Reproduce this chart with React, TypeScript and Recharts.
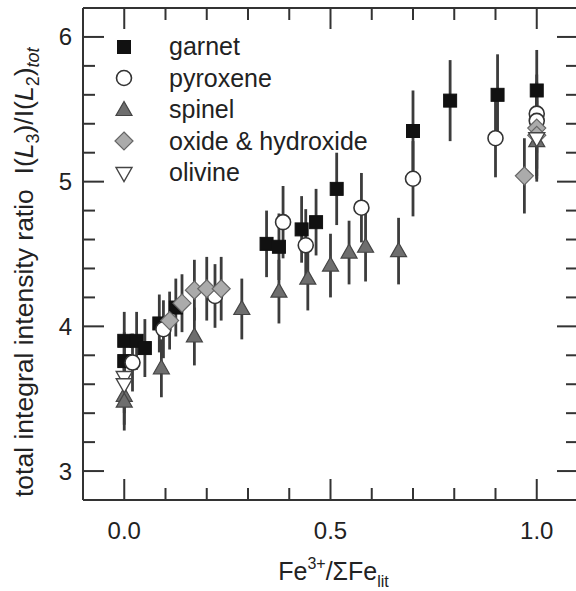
import React from 'react';
import { ErrorBar, Scatter, ScatterChart, XAxis, YAxis } from 'recharts';

// values (Fe3+/ΣFe vs L3/L2 intensity ratio)
const GARNET_X = [0.0, 0.03, 0.05, 0.0, 0.085, 0.125, 0.345, 0.375, 0.43, 0.465, 0.515, 0.7, 0.79, 0.905, 1.0];
const GARNET_Y = [3.9, 3.9, 3.85, 3.76, 4.02, 4.13, 4.57, 4.55, 4.67, 4.72, 4.95, 5.35, 5.56, 5.6, 5.63];
const GARNET_ERR = [0.2, 0.2, 0.2, 0.2, 0.2, 0.2, 0.23, 0.23, 0.23, 0.23, 0.25, 0.28, 0.28, 0.28, 0.28];

const PYROXENE_X = [0.02, 0.095, 0.22, 0.385, 0.44, 0.575, 0.7, 0.9, 1.0, 1.0];
const PYROXENE_Y = [3.75, 3.98, 4.21, 4.72, 4.56, 4.82, 5.02, 5.3, 5.47, 5.42];
const PYROXENE_ERR = [0.2, 0.2, 0.22, 0.25, 0.25, 0.24, 0.26, 0.27, 0.27, 0.27];

const SPINEL_X = [0.0, 0.0, 0.09, 0.17, 0.285, 0.375, 0.445, 0.5, 0.545, 0.585, 0.665, 1.0];
const SPINEL_Y = [3.52, 3.48, 3.71, 3.93, 4.12, 4.24, 4.33, 4.42, 4.51, 4.55, 4.52, 5.28];
const SPINEL_ERR = [0.2, 0.2, 0.2, 0.2, 0.21, 0.22, 0.22, 0.22, 0.22, 0.24, 0.23, 0.28];

const OXIDE_X = [0.11, 0.14, 0.17, 0.2, 0.235, 0.97, 1.0, 1.0];
const OXIDE_Y = [4.04, 4.16, 4.25, 4.26, 4.26, 5.04, 5.37, 5.32];
const OXIDE_ERR = [0.2, 0.2, 0.21, 0.22, 0.22, 0.26, 0.28, 0.28];

const OLIVINE_X = [0.0, 0.0, 1.0];
const OLIVINE_Y = [3.65, 3.6, 5.3];
const OLIVINE_ERR = [0.2, 0.2, 0.28];

const X_DOMAIN = [-0.1, 1.1];
const Y_DOMAIN = [2.8, 6.2];
const X_TICKS = [0, 0.1, 0.2, 0.3, 0.4, 0.5, 0.6, 0.7, 0.8, 0.9, 1.0];
const X_MAJOR = [0, 0.5, 1.0];
const X_LABELS = ['0.0', '0.5', '1.0'];
const Y_TICKS = [3, 3.2, 3.4, 3.6, 3.8, 4, 4.2, 4.4, 4.6, 4.8, 5, 5.2, 5.4, 5.6, 5.8, 6];
const Y_MAJOR = [3, 4, 5, 6];
const Y_LABELS = ['3', '4', '5', '6'];

const FONT = '"Liberation Sans", Arial, Helvetica, sans-serif';
const TEXT = '#222';
const BAR = '#3c3c3c';

type Kind = 'square' | 'circle' | 'up' | 'diamond' | 'down';

const zip = (xs: number[], ys: number[], es: number[]) =>
  xs.map((x, i) => ({ x, y: ys[i], err: es[i] }));

const SERIES: { name: string; kind: Kind; data: { x: number; y: number; err: number }[] }[] = [
  { name: 'garnet', kind: 'square', data: zip(GARNET_X, GARNET_Y, GARNET_ERR) },
  { name: 'pyroxene', kind: 'circle', data: zip(PYROXENE_X, PYROXENE_Y, PYROXENE_ERR) },
  { name: 'spinel', kind: 'up', data: zip(SPINEL_X, SPINEL_Y, SPINEL_ERR) },
  { name: 'oxide & hydroxide', kind: 'diamond', data: zip(OXIDE_X, OXIDE_Y, OXIDE_ERR) },
  { name: 'olivine', kind: 'down', data: zip(OLIVINE_X, OLIVINE_Y, OLIVINE_ERR) },
];

function Marker({ kind, cx, cy }: { kind: Kind; cx: number; cy: number }) {
  if (cx == null || cy == null) return <g />;
  switch (kind) {
    case 'square':
      return <rect x={cx - 6.5} y={cy - 6.5} width={13} height={13} fill="#111" stroke="#111" />;
    case 'circle':
      return <circle cx={cx} cy={cy} r={7.5} fill="#fff" stroke="#333" strokeWidth={1.6} />;
    case 'up':
      return (
        <polygon
          points={`${cx},${cy - 8.5} ${cx - 8},${cy + 5.5} ${cx + 8},${cy + 5.5}`}
          fill="#6e6e6e"
          stroke="#444"
          strokeWidth={1.2}
        />
      );
    case 'diamond':
      return (
        <polygon
          points={`${cx},${cy - 9} ${cx + 9},${cy} ${cx},${cy + 9} ${cx - 9},${cy}`}
          fill="#ababab"
          stroke="#666"
          strokeWidth={1.2}
        />
      );
    default:
      return (
        <polygon
          points={`${cx - 8},${cy - 5.5} ${cx + 8},${cy - 5.5} ${cx},${cy + 8.5}`}
          fill="#fff"
          stroke="#444"
          strokeWidth={1.4}
        />
      );
  }
}

const isIn = (v: number, list: number[]) => list.findIndex((m) => Math.abs(m - v) < 1e-6);
const len = (v: number, majors: number[]) => (isIn(v, majors) >= 0 ? 21 : 12);

// inward ticks drawn by the axis tick renderers themselves (tickSize/tickMargin 0 => x,y sit on the axis line)
function BottomTick(p: any) {
  const idx = isIn(p.payload.value, X_MAJOR);
  return (
    <g>
      <path d={`M${p.x},${p.y}V${p.y - len(p.payload.value, X_MAJOR)}`} stroke="#333333" strokeWidth={2} fill="none" />
      {idx >= 0 && (
        <text x={p.x} y={p.y + 39} textAnchor="middle" fontSize={24} fill={TEXT} fontFamily={FONT}>
          {X_LABELS[idx]}
        </text>
      )}
    </g>
  );
}

function TopTick(p: any) {
  return <path d={`M${p.x},${p.y}V${p.y + len(p.payload.value, X_MAJOR)}`} stroke="#333333" strokeWidth={2} fill="none" />;
}

function LeftTick(p: any) {
  const idx = isIn(p.payload.value, Y_MAJOR);
  return (
    <g>
      <path d={`M${p.x},${p.y}H${p.x + len(p.payload.value, Y_MAJOR)}`} stroke="#333333" strokeWidth={2} fill="none" />
      {idx >= 0 && (
        <text x={p.x - 11} y={p.y + 8.5} textAnchor="end" fontSize={24} fill={TEXT} fontFamily={FONT}>
          {Y_LABELS[idx]}
        </text>
      )}
    </g>
  );
}

function RightTick(p: any) {
  return <path d={`M${p.x},${p.y}H${p.x - len(p.payload.value, Y_MAJOR)}`} stroke="#333333" strokeWidth={2} fill="none" />;
}

function XTitle(p: any) {
  const vb = p.viewBox;
  return (
    <text x={vb.x + vb.width / 2 + 3} y={vb.y + 80} textAnchor="middle" fontSize={25} fill={TEXT} fontFamily={FONT}>
      Fe
      <tspan dy={-11} fontSize={16}>3+</tspan>
      <tspan dy={11}>/ΣFe</tspan>
      <tspan dy={7} fontSize={16}>lit</tspan>
    </text>
  );
}

function YTitle(p: any) {
  const vb = p.viewBox;
  const x = vb.x + 33;
  const y = vb.y + vb.height - 3;
  return (
    <text x={x} y={y} transform={`rotate(-90 ${x} ${y})`} fontSize={26.5} fill={TEXT} fontFamily={FONT}>
      total integral intensity ratio{'\u00a0\u00a0'}I(
      <tspan fontStyle="italic">L</tspan>
      <tspan dy={6} fontSize={18}>3</tspan>
      <tspan dy={-6}>)/I(</tspan>
      <tspan fontStyle="italic">L</tspan>
      <tspan dy={6} fontSize={18}>2</tspan>
      <tspan dy={-6}>)</tspan>
      <tspan dy={6} fontSize={18} fontStyle="italic">tot</tspan>
    </text>
  );
}

function LegendBox() {
  return (
    <div style={{ position: 'absolute', left: 112, top: 31, fontFamily: FONT, fontSize: 25, color: TEXT, pointerEvents: 'none' }}>
      {SERIES.map((s) => (
        <div key={s.name} style={{ display: 'flex', alignItems: 'center', height: 31.5 }}>
          <svg width={24} height={24} style={{ display: 'block' }}>
            <Marker kind={s.kind} cx={12} cy={12} />
          </svg>
          <span style={{ marginLeft: 33, lineHeight: '31.5px', whiteSpace: 'nowrap' }}>{s.name}</span>
        </div>
      ))}
    </div>
  );
}

const axisLine = { stroke: '#333333', strokeWidth: 2 };

export default function App() {
  return (
    <div style={{ position: 'absolute', left: 0, top: 0, width: 576, height: 591, overflow: 'hidden', background: '#fff' }}>
      <ScatterChart width={590} height={591} margin={{ top: 7, right: 11, bottom: 0, left: 0 }}>
        <XAxis
          xAxisId="b"
          type="number"
          dataKey="x"
          domain={X_DOMAIN}
          ticks={X_TICKS}
          interval={0}
          height={91}
          tickSize={0}
          tickMargin={0}
          tickLine={false}
          axisLine={axisLine}
          tick={BottomTick}
          label={XTitle}
        />
        <XAxis
          xAxisId="t"
          orientation="top"
          type="number"
          dataKey="x"
          domain={X_DOMAIN}
          ticks={X_TICKS}
          interval={0}
          height={1}
          tickSize={0}
          tickMargin={0}
          tickLine={false}
          axisLine={axisLine}
          tick={TopTick}
        />
        <YAxis
          yAxisId="l"
          type="number"
          dataKey="y"
          domain={Y_DOMAIN}
          ticks={Y_TICKS}
          interval={0}
          width={83}
          tickSize={0}
          tickMargin={0}
          tickLine={false}
          axisLine={axisLine}
          tick={LeftTick}
          label={YTitle}
        />
        <YAxis
          yAxisId="r"
          orientation="right"
          type="number"
          dataKey="y"
          domain={Y_DOMAIN}
          ticks={Y_TICKS}
          interval={0}
          width={1}
          tickSize={0}
          tickMargin={0}
          tickLine={false}
          axisLine={axisLine}
          tick={RightTick}
        />
        {/* error bars first (bound to the mirror axes, same scale) so markers sit on top */}
        {SERIES.map((s) => (
          <Scatter
            key={`${s.name}-err`}
            xAxisId="t"
            yAxisId="r"
            data={s.data}
            legendType="none"
            shape={() => <g />}
            isAnimationActive={false}
          >
            <ErrorBar dataKey="err" direction="y" width={0} stroke={BAR} strokeWidth={2.8} isAnimationActive={false} />
          </Scatter>
        ))}
        {SERIES.map((s) => (
          <Scatter
            key={s.name}
            name={s.name}
            xAxisId="b"
            yAxisId="l"
            data={s.data}
            shape={(p: any) => <Marker kind={s.kind} cx={p.cx} cy={p.cy} />}
            isAnimationActive={false}
          />
        ))}
      </ScatterChart>
      <LegendBox />
    </div>
  );
}
